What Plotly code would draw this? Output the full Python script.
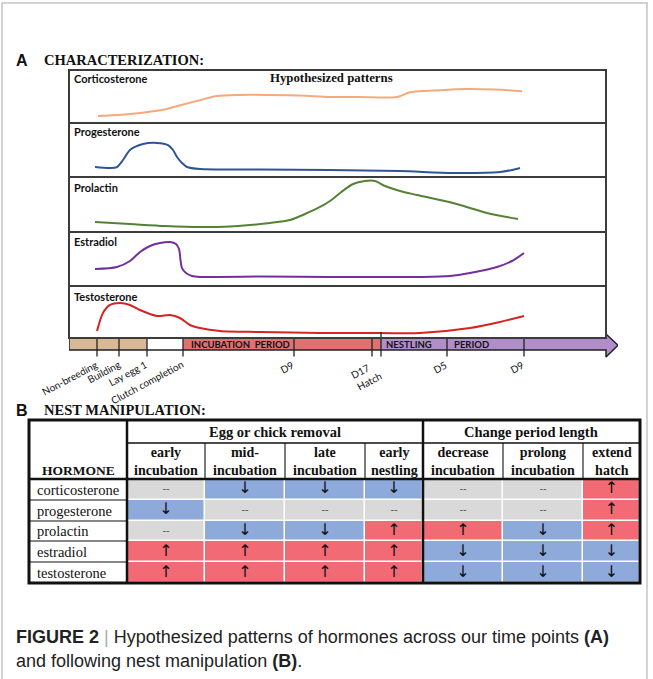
import numpy as np
import plotly.graph_objects as go

# ---------------- DATA ----------------
# Panel A: hypothesized relative hormone level (0 = low, 1 = high) along the timeline
cort_x = [98, 130, 163, 185, 200, 217, 240, 267, 300, 330, 360, 397, 410, 440, 467, 495, 522]
cort_v = [0.13, 0.17, 0.25, 0.36, 0.43, 0.51, 0.53, 0.53, 0.52, 0.49, 0.49, 0.49, 0.58, 0.62, 0.64, 0.63, 0.60]

prog_x = [95, 110, 117, 123, 130, 143, 157, 168, 173, 177, 182, 187, 200, 260, 330, 400, 453, 500, 512, 520]
prog_v = [0.185, 0.167, 0.185, 0.315, 0.50, 0.61, 0.63, 0.59, 0.50, 0.37, 0.26, 0.185, 0.148, 0.139,
          0.13, 0.11, 0.074, 0.093, 0.13, 0.167]

prol_x = [95, 130, 165, 200, 230, 250, 270, 290, 305, 320, 330, 340, 353, 365, 375, 385, 400, 417, 453, 487, 518]
prol_v = [0.18, 0.145, 0.11, 0.09, 0.10, 0.127, 0.164, 0.218, 0.327, 0.455, 0.564, 0.709, 0.873, 0.927,
          0.927, 0.836, 0.745, 0.673, 0.527, 0.345, 0.236]

estr_x = [95, 117, 130, 140, 150, 160, 170, 176, 179, 180.5, 182, 186, 192, 200, 217, 260, 330, 420, 450,
          470, 497, 512, 524]
estr_v = [0.315, 0.352, 0.463, 0.63, 0.741, 0.796, 0.815, 0.778, 0.685, 0.48, 0.33, 0.241, 0.185, 0.167,
          0.167, 0.176, 0.167, 0.167, 0.185, 0.241, 0.352, 0.463, 0.611]

test_x = [97, 103, 110, 120, 130, 140, 157, 170, 180, 190, 200, 220, 260, 320, 380, 420, 470, 500, 524]
test_v = [0.135, 0.481, 0.635, 0.673, 0.635, 0.538, 0.423, 0.442, 0.385, 0.25, 0.192, 0.135, 0.115,
          0.096, 0.096, 0.096, 0.192, 0.308, 0.423]

hormone_names = ["Corticosterone", "Progesterone", "Prolactin", "Estradiol", "Testosterone"]

# Timeline (same horizontal units as the curves)
period_start = [69, 147, 183, 381]
period_end = [147, 183, 381, 606]
tick_pos = [97, 119, 147, 183, 294, 381, 447, 524]
tick_labels = ["Non-breeding", "Building", "Lay egg 1", "Clutch completion", "D9", "D17<br>Hatch", "D5", "D9"]
d17_pos = 372

# Panel B: nest manipulation table (-1 decrease, 0 no change, 1 increase)
table_hormones = ["corticosterone", "progesterone", "prolactin", "estradiol", "testosterone"]
table_groups = ["Egg or chick removal", "Change period length"]
table_columns = ["early<br>incubation", "mid-<br>incubation", "late<br>incubation", "early<br>nestling",
                 "decrease<br>incubation", "prolong<br>incubation", "extend<br>hatch"]
effects = [
    [0, -1, -1, -1, 0, 0, 1],
    [-1, 0, 0, 0, 0, 0, 1],
    [0, -1, -1, 1, 1, -1, 1],
    [1, 1, 1, 1, -1, -1, -1],
    [1, 1, 1, 1, -1, -1, -1],
]

# ---------------- LAYOUT HELPERS ----------------
W, H = 653, 679


def fx(p):
    return p / W


def fy(p):
    return 1 - p / H


panel_edges = [70, 123, 177, 232, 286, 338]
box_left, box_right = 69, 606
curve_colors = ["#f5a97c", "#2f5597", "#548235", "#7030a0", "#d42424"]
period_colors = ["#d8b895", "#ffffff", "#e07171", "#b18dca"]

fig = go.Figure()

series = [(cort_x, cort_v), (prog_x, prog_v), (prol_x, prol_v), (estr_x, estr_v), (test_x, test_v)]
for i, (xs, vs) in enumerate(series):
    yname = "y" if i == 0 else f"y{i+1}"
    fig.add_trace(go.Scatter(x=xs, y=vs, mode="lines", xaxis="x", yaxis=yname,
                             line=dict(color=curve_colors[i], width=2, shape="spline", smoothing=0.8),
                             hoverinfo="skip", showlegend=False))

# timeline bars (y6: 0..1 is the bar)
fig.add_trace(go.Bar(orientation="h", base=period_start,
                     x=[e - s for s, e in zip(period_start, period_end)],
                     y=[0.5] * len(period_start), width=1, xaxis="x", yaxis="y6",
                     marker=dict(color=period_colors, line=dict(width=0)),
                     hoverinfo="skip", showlegend=False))
# arrow head fill
fig.add_trace(go.Scatter(x=[606, 618, 606, 606], y=[1.333, 0.4, -0.583, 1.333], mode="lines",
                         fill="toself", fillcolor=period_colors[3], line=dict(width=0),
                         xaxis="x", yaxis="y6", hoverinfo="skip", showlegend=False))
# outline of arrow
fig.add_trace(go.Scatter(x=[69, 606, 606, 618, 606, 606, 69, 69],
                         y=[1, 1, 1.333, 0.4, -0.583, 0, 0, 1], mode="lines",
                         line=dict(color="#222", width=1.5), xaxis="x", yaxis="y6",
                         hoverinfo="skip", showlegend=False))
# tick lines
tx, ty = [], []
for t in tick_pos + [d17_pos]:
    tx += [t, t, None]
    ty += [1.5 if t == 381 else 1, -0.55, None]
fig.add_trace(go.Scatter(x=tx, y=ty, mode="lines", line=dict(color="#222", width=1.3),
                         xaxis="x", yaxis="y6", hoverinfo="skip", showlegend=False))

# table heatmap
col_edges = [127, 205, 285, 365, 423, 503, 583, 640]
fig.add_trace(go.Heatmap(z=effects, x=col_edges, y=table_hormones, xaxis="x2", yaxis="y7",
                         zmin=-1, zmax=1, showscale=False, xgap=1.5, ygap=1.5,
                         colorscale=[[0, "#8eaadb"], [0.5, "#d9d9d9"], [1, "#f26b74"]],
                         hoverinfo="skip"))
sym = {-1: "↓", 0: "--", 1: "↑"}
cx = [(a + b) / 2 for a, b in zip(col_edges[:-1], col_edges[1:])]
txx, tyy, tt, tc, ts = [], [], [], [], []
for r, h in enumerate(table_hormones):
    for c in range(len(cx)):
        txx.append(cx[c]); tyy.append(h)
        e = effects[r][c]
        tt.append(sym[e])
        tc.append("#111" if e != 0 else "#555")
        ts.append(16 if e != 0 else 10)
fig.add_trace(go.Scatter(x=txx, y=tyy, mode="text", text=tt, xaxis="x2", yaxis="y7",
                         textfont=dict(family="DejaVu Sans", color=tc, size=ts),
                         hoverinfo="skip", showlegend=False))

axis_off = dict(visible=False, fixedrange=True)
layout = dict(
    width=W, height=H, margin=dict(l=0, r=0, t=0, b=0),
    paper_bgcolor="white", plot_bgcolor="rgba(0,0,0,0)", showlegend=False,
    xaxis=dict(domain=[fx(69), fx(618)], range=[69, 618], **axis_off),
    xaxis2=dict(domain=[fx(29), fx(640)], range=[29, 640], **axis_off),
    yaxis6=dict(domain=[fy(362), fy(330)], range=[-1, 1.667], anchor="x", **axis_off),
    yaxis7=dict(domain=[fy(583), fy(479)], autorange="reversed", anchor="x2", **axis_off),
)
for i in range(5):
    key = "yaxis" if i == 0 else f"yaxis{i+1}"
    layout[key] = dict(domain=[fy(panel_edges[i + 1]), fy(panel_edges[i])], range=[0, 1],
                       anchor="x", **axis_off)
fig.update_layout(**layout)

shapes = []
ann = []


def line(x0, y0, x1, y1, color="#111", width=1.2):
    shapes.append(dict(type="line", xref="paper", yref="paper", x0=fx(x0), y0=fy(y0), x1=fx(x1), y1=fy(y1),
                       line=dict(color=color, width=width)))


def text(x, y, s, size, family, color="#111", xanchor="left", yanchor="middle", **kw):
    ann.append(dict(xref="paper", yref="paper", x=fx(x), y=fy(y), text=s, showarrow=False,
                    font=dict(size=size, family=family, color=color), xanchor=xanchor, yanchor=yanchor, **kw))


# page frame
line(2, 3, 648, 3, "#c4c4c4", 1.5)
line(2, 3, 2, 679, "#c4c4c4", 1.5)
line(647, 3, 647, 679, "#c4c4c4", 1.5)

# panel A boxes
shapes.append(dict(type="rect", xref="paper", yref="paper", x0=fx(box_left), x1=fx(box_right),
                   y0=fy(338), y1=fy(70), line=dict(color="#3c3c3c", width=2)))
for e in panel_edges[1:-1]:
    line(box_left, e, box_right, e, "#3c3c3c", 2)

text(14, 60, "<b>A</b>", 16, "Liberation Sans")
text(42, 60, "<b>CHARACTERIZATION:</b>", 14.5, "Liberation Serif")
text(331, 78, "<b>Hypothesized patterns</b>", 12.8, "Liberation Serif", xanchor="center")
label_y = [78, 132, 187, 241, 296]
for nm, yy in zip(hormone_names, label_y):
    text(72, yy, f"<b>{nm}</b>", 11, "Lato")

# bar labels
for lab, xc in [("INCUBATION  PERIOD", 240), ("NESTLING", 409), ("PERIOD", 471)]:
    ann.append(dict(xref="x", yref="y6", x=xc, y=0.5, text=f"<b>{lab}</b>", showarrow=False,
                    font=dict(size=9.5, family="Lato", color="#111"), xanchor="center", yanchor="middle"))
for t, lab in zip(tick_pos, tick_labels):
    ann.append(dict(xref="x", yref="y6", x=t + 5, y=-0.45, text=lab, showarrow=False, textangle=-28,
                    font=dict(size=10, family="Lato", color="#111"), xanchor="right", yanchor="top",
                    align="left"))

# panel B
text(14, 410, "<b>B</b>", 16, "Liberation Sans")
text(42, 410, "<b>NEST MANIPULATION:</b>", 14.5, "Liberation Serif")

TL, TR, TT, TB = 29, 640, 420, 583
shapes.append(dict(type="rect", xref="paper", yref="paper", x0=fx(TL), x1=fx(TR), y0=fy(TB), y1=fy(TT),
                   line=dict(color="#111", width=3)))
line(127, TT, 127, TB, "#111", 2.5)
line(423, TT, 423, TB, "#111", 2.5)
line(TL, 479, TR, 479, "#111", 2.5)
line(127, 443, TR, 443, "#111", 1.3)
for cxx in [205, 285, 365, 503, 583]:
    line(cxx, 443, cxx, 479, "#111", 1.1)
for ry in [500, 521, 541, 562]:
    line(TL, ry, 127, ry, "#111", 1.1)

text(275, 432, "<b>" + table_groups[0] + "</b>", 14.5, "Liberation Serif", xanchor="center")
text(531, 432, "<b>" + table_groups[1] + "</b>", 14.5, "Liberation Serif", xanchor="center")
for c, lab in enumerate(table_columns):
    parts = lab.split("<br>")
    text(cx[c], 461, "<br>".join(f"<b>{p}</b>" for p in parts), 14, "Liberation Serif", xanchor="center")
text(78, 470, "<b>HORMONE</b>", 13.5, "Liberation Serif", xanchor="center")
row_y = [489.5, 510.5, 531, 551.5, 572.5]
for h, yy in zip(table_hormones, row_y):
    text(35, yy, h, 14.5, "Liberation Serif")

# caption
text(14, 637, "<b>FIGURE 2</b> <span style='color:#aaa'>|</span> Hypothesized patterns of hormones across our time points <b>(A)</b>",
     18, "Liberation Sans", color="#222")
text(14, 661, "and following nest manipulation <b>(B)</b>.", 18, "Liberation Sans", color="#222")

fig.update_layout(shapes=shapes, annotations=ann)
fig.write_html("out.html", post_script="document.body.style.margin='0px';",
               config={"displayModeBar": False})
